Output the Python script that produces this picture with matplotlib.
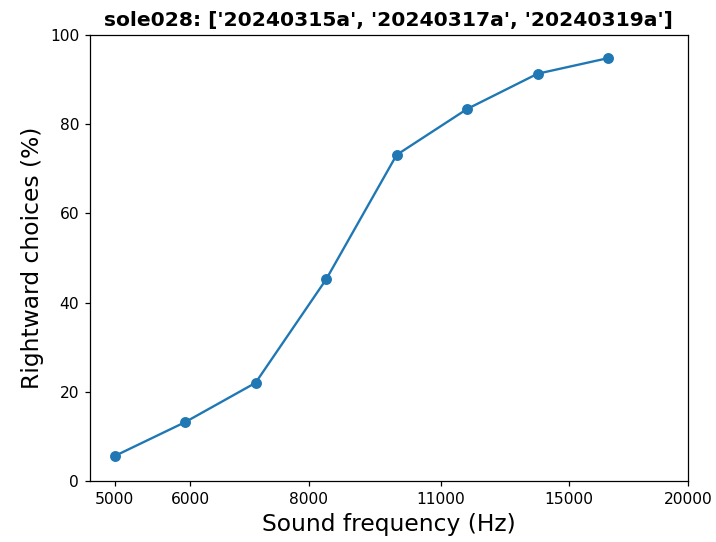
import matplotlib.pyplot as plt

freqs = [5000, 5930, 7030, 8340, 9890, 11730, 13910, 16500]
rightward_pct = [5.6, 13.2, 22.0, 45.2, 73.1, 83.4, 91.3, 94.8]

xtick_vals = [5000, 6000, 8000, 11000, 15000, 20000]
xtick_labels = ['5000', '6000', '8000', '11000', '15000', '20000']

fig = plt.figure(figsize=(6.4, 4.84), dpi=112)
ax = fig.add_axes([0.1255, 0.1125, 0.834, 0.823])

ax.plot(freqs, rightward_pct, 'o-', color='tab:blue')
ax.set_xscale('log')
ax.set_xticks(xtick_vals, xtick_labels, fontsize=10)
ax.set_xticks([], minor=True)
ax.set_ylim(0, 100)
ax.tick_params(axis='y', labelsize=10)

ax.set_xlabel('Sound frequency (Hz)', fontsize=15)
ax.set_ylabel('Rightward choices (%)', fontsize=15)
ax.set_title("sole028: ['20240315a', '20240317a', '20240319a']", fontweight='bold', fontsize=13)

fig.savefig('out.png')
